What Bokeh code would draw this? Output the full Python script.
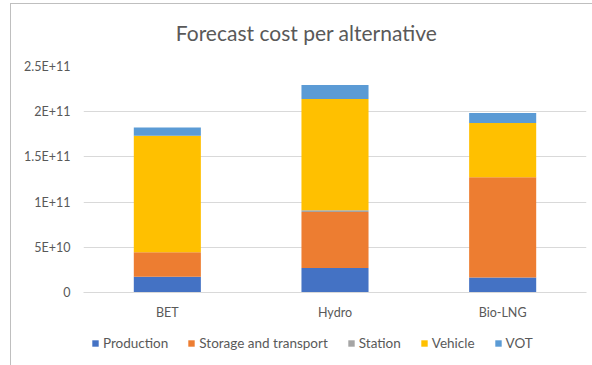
from bokeh.plotting import figure
from bokeh.models import FactorRange, FixedTicker, Legend, LegendItem, ColumnDataSource, Range1d, Label
from bokeh.layouts import column
from bokeh.embed import file_html
from bokeh.resources import INLINE

# Forecast cost components per alternative (currency units)
alternatives = ["BET", "Hydro", "Bio-LNG"]
production = [1.75e10, 2.7e10, 1.65e10]
storage_and_transport = [2.7e10, 6.2e10, 11.1e10]
station = [0.0, 0.2e10, 0.0]
vehicle = [12.9e10, 12.3e10, 6.0e10]
vot = [0.9e10, 1.55e10, 1.1e10]

series_names = ["Production", "Storage and transport", "Station", "Vehicle", "VOT"]
series_keys = ["production", "storage", "station", "vehicle", "vot"]
series_colors = ["#4472C4", "#ED7D31", "#A5A5A5", "#FFC000", "#5B9BD5"]

y_ticks = [0, 5e10, 1e11, 1.5e11, 2e11, 2.5e11]
y_tick_labels = ["0", "5E+10", "1E+11", "1.5E+11", "2E+11", "2.5E+11"]

FONT = "Lato"
TEXT = "#595959"
GRID = "#D9D9D9"

source = ColumnDataSource(dict(
    x=alternatives,
    production=production,
    storage=storage_and_transport,
    station=station,
    vehicle=vehicle,
    vot=vot,
))

W = 581
H_TITLE, H_MAIN, H_LEGEND = 52, 268, 41

x_range = FactorRange(*alternatives)
y_range = Range1d(0, 2.5e11)


def strip(height):
    """A plain band without axes (title / legend); its frame lines up with the chart's."""
    f = figure(
        width=W, height=height,
        x_range=x_range, y_range=y_range,
        x_axis_location=None, y_axis_location=None,
        output_backend="svg", toolbar_location=None,
        min_border=0, outline_line_color=None,
        background_fill_color="white", border_fill_color="white",
    )
    f.grid.visible = False
    return f


# title band
t = strip(H_TITLE)
t.add_layout(Label(
    x=223, y=24, x_units="screen", y_units="screen",
    text="Forecast cost per alternative",
    text_font=FONT, text_font_size="21px", text_color=TEXT,
    text_align="center", text_baseline="middle",
))

# main stacked bar chart
p = figure(
    x_range=x_range,
    y_range=y_range,
    width=W, height=H_MAIN,
    output_backend="svg",
    toolbar_location=None,
    min_border_left=72, min_border_right=6,
    min_border_top=10, min_border_bottom=32,
    background_fill_color="white",
    border_fill_color="white",
    outline_line_color=None,
)

p.vbar_stack(
    series_keys, x="x", width=0.4, source=source,
    color=series_colors, line_color=None,
)

p.yaxis.ticker = FixedTicker(ticks=y_ticks)
p.yaxis.major_label_overrides = {t_: s for t_, s in zip(y_ticks, y_tick_labels)}
p.yaxis.axis_line_color = None
p.yaxis.major_tick_line_color = None
p.yaxis.minor_tick_line_color = None
p.yaxis.major_label_standoff = 7
p.yaxis.major_label_text_font = FONT
p.yaxis.major_label_text_font_size = "12.5px"
p.yaxis.major_label_text_color = TEXT

p.xaxis.axis_line_color = GRID
p.xaxis.major_tick_line_color = None
p.xaxis.minor_tick_line_color = None
p.xaxis.major_label_standoff = 6
p.xaxis.major_label_text_font = FONT
p.xaxis.major_label_text_font_size = "12.5px"
p.xaxis.major_label_text_color = TEXT

p.xgrid.grid_line_color = None
p.ygrid.grid_line_color = GRID
p.ygrid.grid_line_width = 1

# legend band: the same stack, hidden, supplies the legend swatches
q = strip(H_LEGEND)
swatches = q.vbar_stack(
    series_keys, x="x", width=0.4, source=source,
    color=series_colors, line_color=None, visible=False,
)

legend = Legend(
    items=[LegendItem(label=n, renderers=[r]) for n, r in zip(series_names, swatches)],
    orientation="horizontal",
    location=(8, 14),
    glyph_width=8, glyph_height=8, label_height=15, label_width=10,
    label_standoff=4, spacing=19, padding=0, margin=0,
    label_text_font=FONT, label_text_font_size="13.5px", label_text_color=TEXT,
    border_line_color=None, background_fill_alpha=0,
)
q.add_layout(legend)

layout = column(t, p, q, spacing=0, styles={
    "margin-left": "10px", "margin-top": "3px",
    "border-left": "1px solid #BFBFBF", "border-top": "1px solid #BFBFBF",
})

open("out.html", "w").write(file_html(layout, INLINE))
